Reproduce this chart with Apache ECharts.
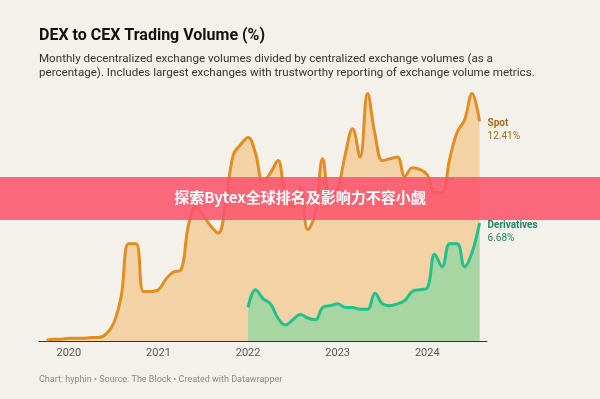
<!DOCTYPE html>
<html>
<head>
<meta charset="utf-8">
<script src="https://cdn.jsdelivr.net/npm/echarts@6/dist/echarts.min.js"></script>
<style>
  html, body { margin: 0; padding: 0; background: #f3f1e9; }
  #chart { width: 600px; height: 399px; }
</style>
</head>
<body>
<div id="chart"></div>
<script>
// months counted from Jan 2020 (0 = Jan 2020)
let spotMonths = [-3, -2, -1, 0, 1, 2, 3, 4, 5, 6, 7, 8, 9, 10, 11, 12, 13, 14, 15, 16, 17, 18, 19, 20,
    21, 22, 23, 24, 25, 26, 27, 28, 29, 30, 31, 32, 33, 34, 35, 36, 37, 38, 39, 40, 41, 42, 43, 44,
    45, 46, 47, 48, 49, 50, 51, 52, 53, 54, 55];
let spotValues = [0.05, 0.1, 0.1, 0.15, 0.15, 0.15, 0.2, 0.2, 0.4, 1.0, 2.5, 5.5, 5.5, 2.8, 2.8, 2.9, 3.5, 3.9, 4.0, 6.5, 7.6, 7.1, 6.5, 6.1,
    7.8, 10.5, 11.1, 11.5, 10.6, 9.0, 9.5, 10.2, 8.2, 7.6, 8.7, 6.3, 7.2, 10.3, 8.0, 8.6, 10.5, 12.0, 10.4, 14.0, 11.7, 10.2, 10.3, 10.4,
    9.3, 9.8, 9.7, 9.4, 8.4, 8.4, 10.3, 11.8, 12.5, 14.0, 12.41];

let derivMonths = [24, 25, 26, 27, 28, 29, 30, 31, 32, 33, 34, 35, 36, 37, 38, 39, 40, 41, 42, 43, 44, 45, 46, 47,
    48, 49, 50, 51, 52, 53, 54, 55];
let derivValues = [1.9, 2.9, 2.4, 2.1, 1.3, 0.9, 1.2, 1.5, 1.3, 1.2, 1.9, 2.0, 2.1, 1.9, 1.9, 1.8, 1.8, 2.7, 2.1, 2.0, 2.1, 2.3, 2.8, 2.9,
    3.0, 4.9, 4.2, 5.5, 5.5, 4.2, 5.0, 6.68];

let yearTicks = [0, 12, 24, 36, 48];
let yearLabels = ['2020', '2021', '2022', '2023', '2024'];

let spotData = spotMonths.map((m, i) => [m, spotValues[i]]);
let derivData = derivMonths.map((m, i) => [m, derivValues[i]]);

let font = 'Roboto, "Noto Sans", sans-serif';

let option = {
    backgroundColor: '#f3f1e9',
    animation: false,
    textStyle: { fontFamily: font },
    title: {
        text: 'DEX to CEX Trading Volume (%)',
        subtext: 'Monthly decentralized exchange volumes divided by centralized exchange volumes (as a\npercentage). Includes largest exchanges with trustworthy reporting of exchange volume metrics.',
        left: 34,
        top: 23,
        itemGap: 8,
        textStyle: { fontSize: 16, fontWeight: 'bold', color: '#111', fontFamily: font },
        subtextStyle: { fontSize: 11.6, color: '#333', lineHeight: 14, fontFamily: font }
    },
    grid: { left: 39, right: 113, top: 58, bottom: 58 },
    xAxis: {
        type: 'value',
        min: -4,
        max: 56,
        splitLine: { show: false },
        axisTick: { show: false },
        axisLine: { show: true, onZero: false, lineStyle: { color: '#333', width: 1 } },
        axisLabel: {
            customValues: yearTicks,
            formatter: v => yearLabels[yearTicks.indexOf(v)],
            color: '#555',
            fontSize: 11,
            margin: 7,
            fontFamily: font
        }
    },
    yAxis: {
        type: 'value',
        min: 0,
        max: 16,
        show: false
    },
    series: [
        {
            name: 'Spot',
            type: 'line',
            data: spotData,
            smooth: 0.4,
            symbol: 'none',
            z: 2,
            lineStyle: { color: '#e08d22', width: 3 },
            areaStyle: { color: '#f3d3a5', opacity: 1 },
            endLabel: {
                show: true,
                distance: 8,
                offset: [0, 9],
                formatter: p => '{a|Spot}\n{b|' + p.value[1].toFixed(2) + '%}',
                rich: {
                    a: { fontSize: 10, fontWeight: 'bold', color: '#a5681e', lineHeight: 13, fontFamily: font },
                    b: { fontSize: 10, color: '#a5681e', lineHeight: 13, fontFamily: font }
                }
            }
        },
        {
            name: 'Derivatives',
            type: 'line',
            data: derivData,
            smooth: 0.4,
            symbol: 'none',
            z: 3,
            lineStyle: { color: '#22c08d', width: 3 },
            areaStyle: { color: '#a8d6a2', opacity: 1 },
            endLabel: {
                show: true,
                distance: 8,
                offset: [0, 9],
                formatter: p => '{a|Derivatives}\n{b|' + p.value[1].toFixed(2) + '%}',
                rich: {
                    a: { fontSize: 10, fontWeight: 'bold', color: '#1f8566', lineHeight: 13, fontFamily: font },
                    b: { fontSize: 10, color: '#1f8566', lineHeight: 13, fontFamily: font }
                }
            }
        }
    ],
    graphic: [
        {
            type: 'text',
            left: 39,
            top: 375,
            style: {
                text: 'Chart: hyphin \u2022 Source: The Block \u2022 Created with Datawrapper',
                fill: '#888',
                fontSize: 9,
                fontFamily: font
            }
        },
        {
            type: 'rect',
            z: 100,
            shape: { x: 0, y: 177, width: 600, height: 43 },
            style: { fill: 'rgba(252, 84, 108, 0.88)' }
        },
        {
            type: 'text',
            z: 101,
            left: 'center',
            top: 190,
            style: {
                text: '探索Bytex全球排名及影响力不容小觑',
                fill: '#fff',
                fontSize: 15,
                fontWeight: 'bold',
                fontFamily: '"Noto Sans CJK SC", "Noto Sans", sans-serif'
            }
        }
    ]
};

let chart = echarts.init(document.getElementById('chart'));
chart.setOption(option);
</script>
</body>
</html>
